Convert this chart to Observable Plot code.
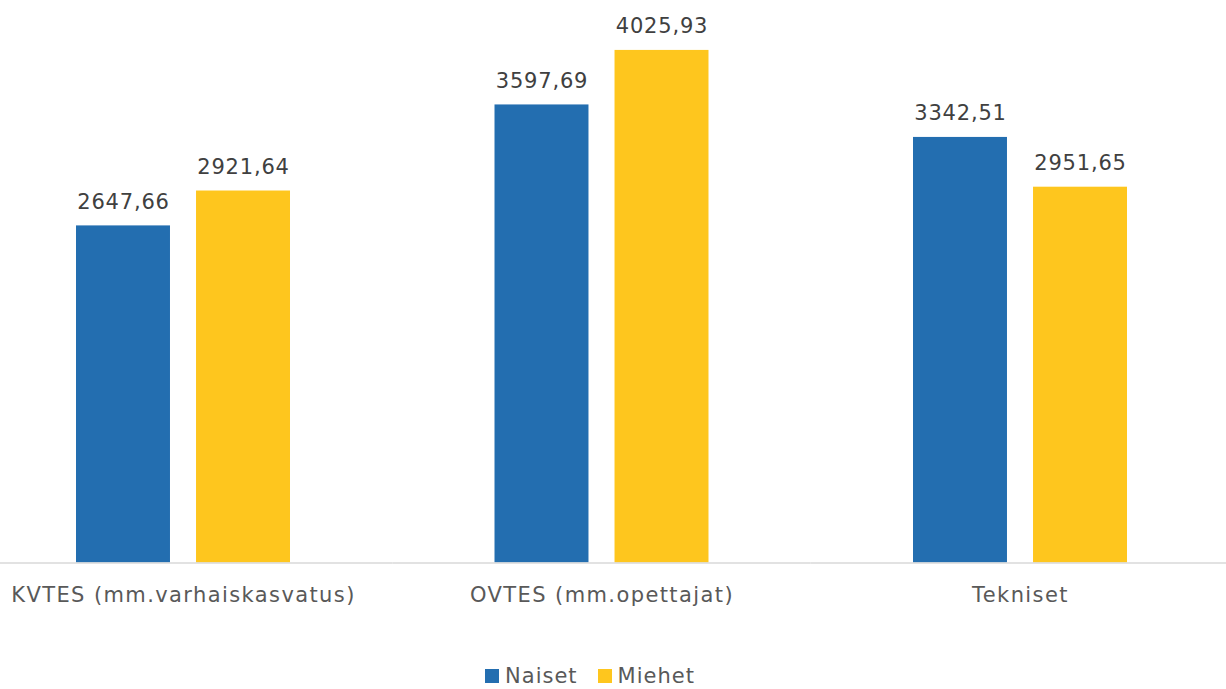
<!DOCTYPE html>
<html>
<head>
<meta charset="utf-8">
<script src="https://cdn.jsdelivr.net/npm/d3@7"></script>
<script src="https://cdn.jsdelivr.net/npm/@observablehq/plot@0.6"></script>
<style>
  body { margin: 0; background: #fff; font-family: "DejaVu Sans", sans-serif; }
  #legend { display: flex; justify-content: center; align-items: center; height: 26px; margin-top: 13px; padding-right: 46px; font-size: 21px; color: #595959; letter-spacing: 1px; }
  .item { display: flex; align-items: center; margin: 0 10px; }
  .sw { width: 14px; height: 14px; margin-right: 6px; }
  .vlabels text { letter-spacing: 0.8px; }
  .catax text { letter-spacing: 1.4px; }
</style>
</head>
<body>
<div id="chart"></div>
<div id="legend"></div>
<script>
const categories = ["KVTES (mm.varhaiskasvatus)", "OVTES (mm.opettajat)", "Tekniset"];
const seriesNames = ["Naiset", "Miehet"];
const naiset = [2647.66, 3597.69, 3342.51];
const miehet = [2921.64, 4025.93, 2951.65];
const colors = ["#236EB0", "#FEC61E"];

const data = [];
categories.forEach((c, i) => {
  data.push({cat: c, series: "Naiset", value: naiset[i]});
  data.push({cat: c, series: "Miehet", value: miehet[i]});
});
const fmt = v => v.toFixed(2).replace(".", ",");

const plot = Plot.plot({
  width: 1226,
  height: 650,
  marginLeft: 0,
  marginRight: 0,
  marginTop: 0,
  marginBottom: 87.5,
  style: {fontFamily: "DejaVu Sans, sans-serif", background: "#fff"},
  fx: {domain: categories, range: [-26.25, 1229.25], padding: 0, round: false, label: null},
  x: {domain: seriesNames, paddingInner: 0.217, paddingOuter: 0.852, round: false, axis: null},
  y: {domain: [0, 4418], axis: null},
  color: {domain: seriesNames, range: colors},
  marks: [
    Plot.barY(data, {fx: "cat", x: "series", y: "value", fill: "series"}),
    Plot.ruleY([0], {stroke: "#d9d9d9", strokeWidth: 1.5}),
    Plot.text(data, {fx: "cat", x: "series", y: "value", text: d => fmt(d.value), dy: -17, lineAnchor: "bottom", fontSize: 21, fill: "#404040", className: "vlabels"}),
    Plot.axisFx({anchor: "bottom", tickSize: 0, tickPadding: 24, fontSize: 21, fill: "#595959", label: null, className: "catax"})
  ]
});
document.getElementById("chart").appendChild(plot);

const legend = document.getElementById("legend");
seriesNames.forEach((s, i) => {
  const it = document.createElement("div");
  it.className = "item";
  const sw = document.createElement("div");
  sw.className = "sw";
  sw.style.background = colors[i];
  const t = document.createElement("span");
  t.textContent = s;
  it.appendChild(sw); it.appendChild(t);
  legend.appendChild(it);
});
</script>
</body>
</html>
